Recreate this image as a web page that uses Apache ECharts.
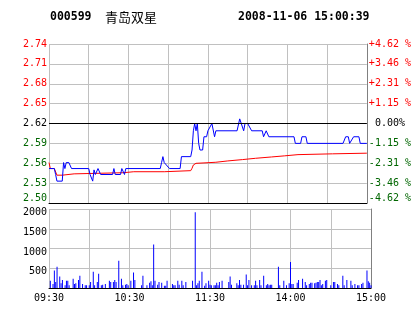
<!DOCTYPE html>
<html>
<head>
<meta charset="utf-8">
<script src="https://cdn.jsdelivr.net/npm/echarts@6/dist/echarts.min.js"></script>
<style>
html,body{margin:0;padding:0;background:#fff;}
#chart{width:414px;height:314px;}
</style>
</head>
<body>
<div id="chart"></div>
<script>
// ---- text ----
const stockCode = '000599';
const stockName = '青岛双星';
const timestamp = '2008-11-06 15:00:39';
const prevClose = 2.62;

// ---- tick labels ----
const xTickLabels = ['09:30', '', '10:30', '', '11:30', '', '14:00', '', '15:00'];
const pctLabels = ['-4.62 %', '-3.46 %', '-2.31 %', '-1.15 %', ' 0.00%', '+1.15 %', '+2.31 %', '+3.46 %', '+4.62 %'];
const volLabels = ['', '500', '1000', '1500', '2000'];

// ---- price line (minute index, price) ----
const priceMin = [0,4,5,6,10,11,12,13,15,17,30,31,33,34,35,36,37,38,39,48,49,50,54,55,56,57,58,
  84,85,86,87,88,91,99,100,107,108,109,110,111,112,113,114,116,117,119,120,121,123,125,126,
  142,144,147,148,150,153,161,162,164,166,185,186,190,191,194,195,222,224,226,227,230,234,235,240];
const priceVal = [2.552,2.552,2.543,2.533,2.533,2.561,2.552,2.561,2.561,2.552,2.552,2.543,2.533,2.550,2.543,2.543,2.552,2.552,2.543,2.543,2.552,2.543,2.543,2.552,2.552,2.543,2.552,
  2.552,2.561,2.570,2.561,2.561,2.552,2.552,2.570,2.570,2.580,2.609,2.620,2.609,2.620,2.590,2.580,2.580,2.600,2.600,2.609,2.609,2.620,2.600,2.609,
  2.609,2.627,2.609,2.620,2.620,2.609,2.609,2.600,2.609,2.600,2.600,2.590,2.590,2.600,2.600,2.590,2.590,2.600,2.600,2.590,2.600,2.600,2.590,2.590];

// ---- average price line ----
const avgMin = [0,1,4,6,10,11,19,20,56,64,87,88,107,108,109,111,117,126,135,146,156,168,178,188,214,240];
const avgVal = [2.561,2.552,2.552,2.542,2.542,2.544,2.544,2.5453,2.5457,2.5472,2.5472,2.5488,2.5488,2.5524,2.5574,2.5599,2.5605,2.5615,2.5635,2.5655,2.5675,2.5695,2.5712,2.5730,2.5742,2.5752];

// ---- volume bars ----
const volMin = [1,3,4,5,6,8,9,10,12,13,14,15,18,19,20,22,23,25,27,28,30,31,33,34,36,37,39,40,42,45,46,48,49,50,52,54,55,57,58,59,
  61,63,64,69,70,73,75,76,77,78,79,81,82,84,86,87,88,92,93,94,96,97,99,100,102,107,109,110,111,112,114,116,117,119,120,
  121,123,124,125,126,127,129,134,135,136,140,141,142,143,145,147,148,149,151,153,154,155,157,158,160,162,163,164,165,166,
  171,172,175,177,179,180,181,182,185,186,189,191,192,194,195,196,198,199,200,201,202,203,204,206,207,210,212,213,215,216,
  219,220,222,225,226,228,230,231,233,234,237,238,239,240];
const volVal = [185,100,440,150,540,290,120,200,70,185,185,70,235,100,120,200,310,100,70,70,70,150,410,70,150,360,70,85,100,185,150,150,200,150,690,235,70,85,100,70,
  185,390,200,70,310,70,135,170,70,1100,185,85,150,135,60,60,185,100,70,70,185,85,185,70,150,185,1915,70,120,185,410,60,120,185,85,
  70,70,70,135,70,150,185,150,290,85,120,70,200,85,85,340,70,200,70,70,185,70,200,70,310,70,100,70,85,85,
  540,70,185,70,120,660,100,100,135,200,235,150,70,100,135,135,120,135,150,150,200,70,100,185,200,70,150,150,100,70,
  310,70,200,185,70,100,70,70,100,135,440,170,135,70];

const zip = (a, b) => a.map((v, i) => [v, b[i]]);

const MONO = 'DejaVu Sans Mono';
const RED = '#ff0000', GREEN = '#006600', BLACK = '#000000', GRID = '#c0c0c0';
const base = {fontFamily: MONO, fontSize: 10};
const richStyles = {
  r: Object.assign({color: RED}, base),
  k: Object.assign({color: BLACK}, base),
  g: Object.assign({color: GREEN}, base),
  gb: Object.assign({color: GREEN, padding: [0, 0, 9, 0]}, base),
  v: Object.assign({color: BLACK, padding: [7, 0, 0, 0]}, base)
};

const chart = echarts.init(document.getElementById('chart'), null, {renderer: 'canvas'});
const option = {
  animation: false,
  backgroundColor: '#ffffff',
  textStyle: {fontFamily: MONO},
  graphic: [
    {type: 'text', x: 50, y: 17, style: {text: stockCode, font: 'bold 11.5px "DejaVu Sans Mono"', fill: '#000', verticalAlign: 'middle', textVerticalAlign: 'middle'}},
    {type: 'text', x: 105, y: 17, style: {text: stockName, font: '13px "Noto Sans CJK SC"', fill: '#000', verticalAlign: 'middle', textVerticalAlign: 'middle'}},
    {type: 'text', x: 238, y: 17, style: {text: timestamp, font: 'bold 11.5px "DejaVu Sans Mono"', fill: '#000', verticalAlign: 'middle', textVerticalAlign: 'middle'}}
  ],
  grid: [
    {left: 49, right: 43, top: 44, height: 159},
    {left: 49, right: 43, top: 209, height: 79}
  ],
  xAxis: [
    {type: 'value', gridIndex: 0, min: 0, max: 240, interval: 30,
     axisLine: {show: true, onZero: false, lineStyle: {color: BLACK, width: 1}},
     axisTick: {show: false}, axisLabel: {show: false},
     splitLine: {show: true, lineStyle: {color: GRID, width: 1}}},
    {type: 'value', gridIndex: 1, min: 0, max: 240, interval: 30,
     axisLine: {show: true, onZero: false, lineStyle: {color: BLACK, width: 1}},
     axisTick: {show: false},
     axisLabel: {show: true, margin: 5, fontSize: 10, fontFamily: MONO, color: BLACK,
       formatter: v => xTickLabels[Math.round(v / 30)] || ''},
     splitLine: {show: true, lineStyle: {color: GRID, width: 1}}}
  ],
  yAxis: [
    {type: 'value', gridIndex: 0, position: 'left', min: 2.50, max: 2.74, interval: 0.03,
     axisLine: {show: false}, axisTick: {show: false},
     splitLine: {show: true, lineStyle: {color: GRID, width: 1}},
     axisLabel: {margin: 2, fontSize: 10, fontFamily: MONO, rich: richStyles,
       formatter: (v, idx) => {
         const t = v.toFixed(2);
         let k = Math.abs(v - prevClose) < 0.001 ? 'k' : (v > prevClose ? 'r' : 'g');
         if (idx === 0) k = 'gb';
         return '{' + k + '|' + t + '}';
       }}},
    {type: 'value', gridIndex: 0, position: 'right', min: 0, max: 8, interval: 1,
     axisLine: {show: true, lineStyle: {color: '#808080', width: 1}}, axisTick: {show: false},
     splitLine: {show: false},
     axisLabel: {margin: 2, fontSize: 10, fontFamily: MONO, rich: richStyles,
       formatter: v => {
         const i = Math.round(v);
         let k = i === 4 ? 'k' : (i > 4 ? 'r' : 'g');
         if (i === 0) k = 'gb';
         return '{' + k + '|' + pctLabels[i] + '}';
       }}},
    {type: 'value', gridIndex: 1, position: 'left', min: 0, max: 2000, interval: 500,
     axisLine: {show: false}, axisTick: {show: false},
     splitLine: {show: true, lineStyle: {color: GRID, width: 1}},
     axisLabel: {margin: 2, fontSize: 10, fontFamily: MONO, color: BLACK, rich: richStyles,
       formatter: v => {
         const s = volLabels[Math.round(v / 500)];
         return s ? '{v|' + s + '}' : '';
       }}},
    {type: 'value', gridIndex: 1, position: 'right', min: 0, max: 2000, interval: 500,
     axisLine: {show: true, lineStyle: {color: '#808080', width: 1}}, axisTick: {show: false},
     splitLine: {show: false}, axisLabel: {show: false}}
  ],
  series: [
    {type: 'line', xAxisIndex: 0, yAxisIndex: 0, data: zip(avgMin, avgVal),
     symbol: 'none', showSymbol: false, lineStyle: {color: RED, width: 1}, z: 3,
     markLine: {silent: true, symbol: 'none', label: {show: false},
       lineStyle: {color: BLACK, width: 1, type: 'solid'},
       data: [{yAxis: prevClose}]}},
    {type: 'line', xAxisIndex: 0, yAxisIndex: 0, data: zip(priceMin, priceVal),
     symbol: 'none', showSymbol: false, lineStyle: {color: '#0000ff', width: 1}, z: 4},
    {type: 'bar', xAxisIndex: 1, yAxisIndex: 2, data: zip(volMin, volVal),
     barWidth: 1, itemStyle: {color: '#0000ff'}}
  ]
};
chart.setOption(option);
</script>
</body>
</html>
